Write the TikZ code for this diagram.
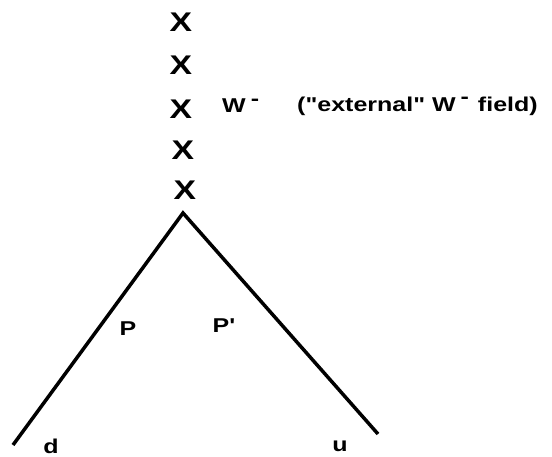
\documentclass[tikz,border=0pt]{standalone}
\usepackage{fontspec}
\setmainfont{Liberation Sans}
\newfontfamily\lblfont[FakeStretch=1.25,Ligatures=TeXOff]{Liberation Sans}
\usetikzlibrary{positioning}
\tikzset{
  lbl/.style={font=\lblfont\bfseries\fontsize{20}{20}\selectfont, inner sep=0pt},
  xmark/.style={font=\lblfont\bfseries\fontsize{27}{27}\selectfont, inner sep=0pt},
  leg/.style={line width=3.5pt}
}
\newcommand{\wminus}{W\kern5pt\raisebox{0.7ex}{-}}

\begin{document}
\begin{tikzpicture}[x=1pt,y=-1pt]
        \useasboundingbox (0,0) rectangle (552,457);
        % external field insertions
        \foreach \xx/\yy/\nm in {181/22/xa,181/65/xb,181/109/xc,183/150/xd,185/190/xe}
          \node[xmark] (\nm) at (\xx,\yy) {X};
        \node[lbl, anchor=west] (w) at (222,106) {\wminus};
        \node[lbl, anchor=west] (ext) at (297,106) {("external" \wminus\kern9pt field)};
        % quark lines
        \coordinate (v) at (183,213);
        \coordinate (dl) at (13,445);
        \coordinate (ur) at (378,434);
        \draw[leg] (dl) -- (v) -- (ur);
        \node[lbl] (p) at (128,329) {P};
        \node[lbl] (pp) at (224,326) {P'};
        \node[lbl] (d) at (51,446) {d};
        \node[lbl] (u) at (340,446) {u};
      \end{tikzpicture}
\end{document}
